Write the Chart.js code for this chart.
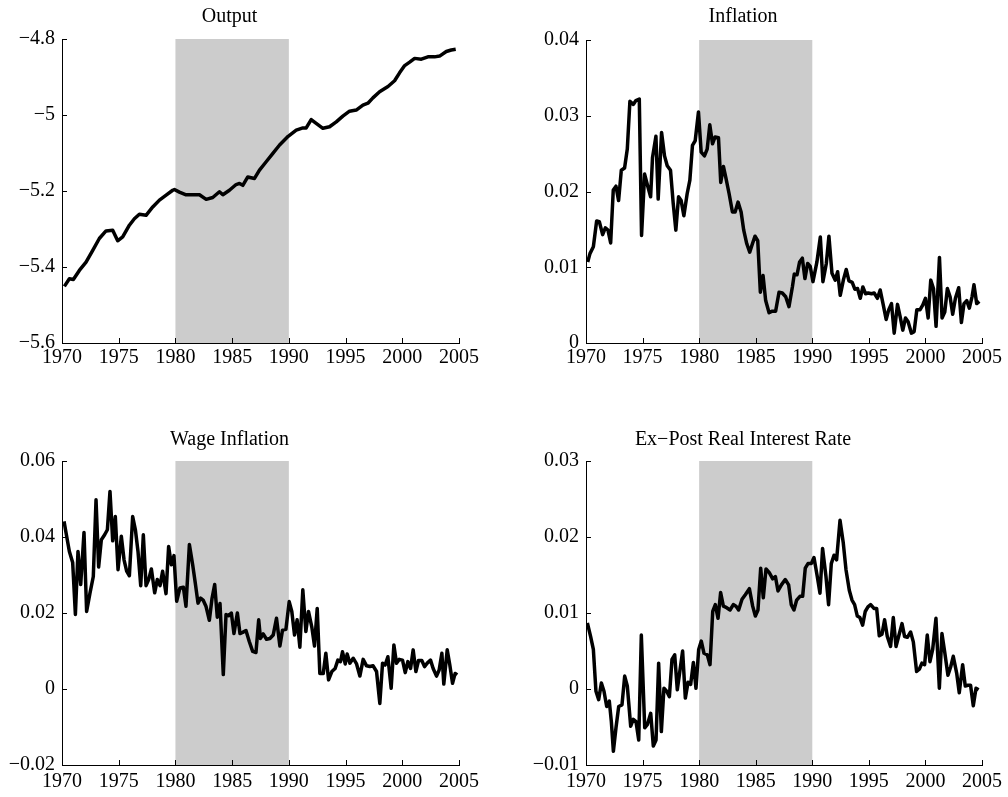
<!DOCTYPE html>
<html lang="en">
<head>
<meta charset="UTF-8" />
<title>Output, Inflation, Wage Inflation, Real Rate</title>
<script src="https://cdn.jsdelivr.net/npm/chart.js@4.4.1/dist/chart.umd.min.js"></script>
<style>
  body { margin: 0; background: #fff; width: 1008px; height: 797px; overflow: hidden; }
  canvas { position: absolute; }
</style>
</head>
<body>
<canvas id="cOutput" width="504" height="398" style="left:0;top:0;width:504px;height:398px"></canvas>
<canvas id="cInfl" width="504" height="398" style="left:504px;top:0;width:504px;height:398px"></canvas>
<canvas id="cWage" width="504" height="399" style="left:0;top:398px;width:504px;height:399px"></canvas>
<canvas id="cReal" width="504" height="399" style="left:504px;top:398px;width:504px;height:399px"></canvas>
<script>
// shaded period and x ticks
const shadeYears = [1980, 1990];
const xTicks = [1970, 1975, 1980, 1985, 1990, 1995, 2000, 2005];

// Output
const outputYears = [1970.21, 1970.65, 1971.0, 1971.53, 1972.12, 1972.71, 1973.29, 1973.88, 1974.47, 1974.91,
  1975.35, 1975.94, 1976.38, 1976.82, 1977.41, 1978.0, 1978.59, 1979.18, 1979.76, 1979.91,
  1980.35, 1980.94, 1981.53, 1982.12, 1982.71, 1983.29, 1983.88, 1984.18, 1984.76, 1985.35,
  1985.65, 1985.94, 1986.38, 1986.97, 1987.41, 1988.0, 1988.59, 1989.18, 1989.94, 1990.65,
  1991.24, 1991.53, 1991.97, 1992.41, 1993.0, 1993.59, 1994.18, 1994.76, 1995.35, 1995.94,
  1996.53, 1996.97, 1997.41, 1998.0, 1998.74, 1999.32, 1999.76, 2000.21, 2000.65, 2001.09,
  2001.68, 2002.26, 2002.85, 2003.29, 2003.88, 2004.32, 2004.71];
const outputValues = [-5.451, -5.431, -5.433, -5.409, -5.387, -5.356, -5.325, -5.305, -5.303, -5.331,
  -5.321, -5.290, -5.273, -5.261, -5.264, -5.242, -5.224, -5.211, -5.198, -5.196,
  -5.203, -5.210, -5.210, -5.210, -5.222, -5.217, -5.202, -5.210, -5.198, -5.183,
  -5.180, -5.185, -5.163, -5.167, -5.145, -5.123, -5.101, -5.079, -5.056, -5.040,
  -5.034, -5.034, -5.012, -5.022, -5.035, -5.031, -5.018, -5.003, -4.990, -4.987,
  -4.974, -4.969, -4.955, -4.939, -4.925, -4.910, -4.889, -4.870, -4.861, -4.851,
  -4.853, -4.847, -4.847, -4.845, -4.833, -4.829, -4.827];
const outputTicks = [-5.6, -5.4, -5.2, -5, -4.8];

// Inflation
const inflYears = [1970.15, 1970.35, 1970.65, 1970.94, 1971.18, 1971.47, 1971.71, 1971.94, 1972.18, 1972.41,
  1972.65, 1972.88, 1973.12, 1973.41, 1973.65, 1973.88, 1974.18, 1974.41, 1974.71, 1974.91,
  1975.18, 1975.44, 1975.71, 1975.88, 1976.18, 1976.38, 1976.68, 1976.94, 1977.18, 1977.47,
  1977.71, 1977.94, 1978.18, 1978.41, 1978.65, 1978.94, 1979.18, 1979.41, 1979.65, 1979.94,
  1980.18, 1980.47, 1980.71, 1980.94, 1981.18, 1981.41, 1981.71, 1981.91, 1982.15, 1982.35,
  1982.65, 1982.94, 1983.18, 1983.44, 1983.71, 1983.94, 1984.21, 1984.47, 1984.71, 1984.94,
  1985.18, 1985.41, 1985.65, 1985.88, 1986.18, 1986.47, 1986.76, 1987.06, 1987.35, 1987.65,
  1987.94, 1988.24, 1988.41, 1988.65, 1988.88, 1989.12, 1989.35, 1989.59, 1989.82, 1990.06,
  1990.41, 1990.71, 1990.94, 1991.24, 1991.47, 1991.74, 1992.03, 1992.24, 1992.47, 1992.76,
  1993.0, 1993.24, 1993.53, 1993.76, 1994.0, 1994.24, 1994.47, 1994.71, 1994.94, 1995.24,
  1995.47, 1995.76, 1996.0, 1996.29, 1996.53, 1996.76, 1997.0, 1997.24, 1997.53, 1997.76,
  1998.0, 1998.24, 1998.47, 1998.76, 1999.0, 1999.24, 1999.53, 1999.76, 2000.0, 2000.24,
  2000.47, 2000.71, 2000.94, 2001.24, 2001.47, 2001.71, 2001.94, 2002.18, 2002.41, 2002.65,
  2002.94, 2003.18, 2003.41, 2003.65, 2003.88, 2004.12, 2004.29, 2004.53, 2004.76];
const inflValues = [0.0107, 0.0118, 0.0127, 0.0161, 0.0160, 0.0143, 0.0152, 0.0149, 0.0132, 0.0202,
  0.0207, 0.0188, 0.0228, 0.0231, 0.0256, 0.0319, 0.0315, 0.0320, 0.0322, 0.0142,
  0.0223, 0.0208, 0.0193, 0.0245, 0.0273, 0.0190, 0.0278, 0.0247, 0.0234, 0.0228,
  0.0184, 0.0149, 0.0193, 0.0188, 0.0168, 0.0197, 0.0215, 0.0261, 0.0267, 0.0305,
  0.0252, 0.0247, 0.0256, 0.0288, 0.0263, 0.0272, 0.0271, 0.0212, 0.0233, 0.0219,
  0.0197, 0.0173, 0.0173, 0.0186, 0.0173, 0.0149, 0.0131, 0.0120, 0.0131, 0.0141,
  0.0135, 0.0067, 0.0089, 0.0056, 0.0040, 0.0042, 0.0042, 0.0067, 0.0066, 0.0061,
  0.0048, 0.0074, 0.0091, 0.0090, 0.0107, 0.0112, 0.0085, 0.0105, 0.0101, 0.0081,
  0.0107, 0.0140, 0.0081, 0.0105, 0.0141, 0.0092, 0.0083, 0.0094, 0.0063, 0.0084,
  0.0097, 0.0082, 0.0080, 0.0071, 0.0072, 0.0059, 0.0074, 0.0065, 0.0066, 0.0065,
  0.0066, 0.0059, 0.0070, 0.0049, 0.0031, 0.0044, 0.0052, 0.0013, 0.0051, 0.0035,
  0.0017, 0.0033, 0.0028, 0.0013, 0.0015, 0.0044, 0.0044, 0.0050, 0.0059, 0.0033,
  0.0083, 0.0072, 0.0022, 0.0113, 0.0033, 0.0041, 0.0072, 0.0061, 0.0038, 0.0059,
  0.0073, 0.0027, 0.0052, 0.0056, 0.0046, 0.0061, 0.0077, 0.0052, 0.0055];
const inflTicks = [0, 0.01, 0.02, 0.03, 0.04];

// Wage inflation
const wageYears = [1970.18, 1970.41, 1970.65, 1970.94, 1971.18, 1971.41, 1971.65, 1971.94, 1972.17, 1972.47,
  1972.76, 1973.0, 1973.23, 1973.47, 1973.76, 1974.0, 1974.23, 1974.47, 1974.7, 1974.94,
  1975.23, 1975.47, 1975.7, 1975.94, 1976.23, 1976.47, 1976.7, 1976.94, 1977.17, 1977.41,
  1977.64, 1977.88, 1978.17, 1978.4, 1978.64, 1978.87, 1979.17, 1979.4, 1979.64, 1979.87,
  1980.11, 1980.4, 1980.7, 1980.93, 1981.23, 1981.52, 1981.75, 1981.99, 1982.22, 1982.46,
  1982.69, 1982.99, 1983.22, 1983.46, 1983.69, 1983.93, 1984.22, 1984.46, 1984.69, 1984.93,
  1985.16, 1985.46, 1985.69, 1985.93, 1986.22, 1986.51, 1986.81, 1987.1, 1987.34, 1987.5,
  1987.74, 1988.03, 1988.33, 1988.62, 1988.91, 1989.21, 1989.44, 1989.74, 1990.03, 1990.26,
  1990.5, 1990.73, 1990.97, 1991.23, 1991.5, 1991.73, 1992.03, 1992.26, 1992.5, 1992.73,
  1993.03, 1993.26, 1993.5, 1993.79, 1994.08, 1994.32, 1994.55, 1994.73, 1994.97, 1995.14,
  1995.38, 1995.67, 1995.97, 1996.26, 1996.55, 1996.85, 1997.14, 1997.43, 1997.73, 1998.02,
  1998.26, 1998.49, 1998.73, 1999.02, 1999.26, 1999.49, 1999.73, 2000.02, 2000.26, 2000.49,
  2000.73, 2000.96, 2001.2, 2001.43, 2001.72, 2001.96, 2002.2, 2002.49, 2002.72, 2003.02,
  2003.25, 2003.49, 2003.66, 2003.96, 2004.19, 2004.43, 2004.66, 2004.84];
const wageValues = [0.0441, 0.0402, 0.0362, 0.0333, 0.0196, 0.0362, 0.0275, 0.0412, 0.0204, 0.0253,
  0.0296, 0.0498, 0.0321, 0.0393, 0.0406, 0.0419, 0.0520, 0.0390, 0.0454, 0.0314,
  0.0402, 0.0340, 0.0310, 0.0298, 0.0454, 0.0419, 0.0362, 0.0272, 0.0406, 0.0272,
  0.0288, 0.0316, 0.0253, 0.0288, 0.0272, 0.0310, 0.0251, 0.0375, 0.0327, 0.0351,
  0.0231, 0.0266, 0.0268, 0.0218, 0.0380, 0.0327, 0.0279, 0.0226, 0.0239, 0.0233,
  0.0218, 0.0181, 0.0237, 0.0275, 0.0189, 0.0225, 0.0038, 0.0196, 0.0193, 0.0200,
  0.0146, 0.0200, 0.0146, 0.0149, 0.0154, 0.0125, 0.0099, 0.0096, 0.0182, 0.0133,
  0.0145, 0.0131, 0.0133, 0.0142, 0.0186, 0.0113, 0.0155, 0.0157, 0.0230, 0.0204,
  0.0142, 0.0182, 0.0110, 0.0261, 0.0151, 0.0204, 0.0162, 0.0113, 0.0212, 0.0041,
  0.0041, 0.0094, 0.0024, 0.0046, 0.0054, 0.0076, 0.0072, 0.0098, 0.0066, 0.0092,
  0.0068, 0.0081, 0.0066, 0.0034, 0.0078, 0.0061, 0.0059, 0.0061, 0.0046, -0.0038,
  0.0068, 0.0063, 0.0085, 0.0002, 0.0116, 0.0068, 0.0078, 0.0076, 0.0043, 0.0072,
  0.0054, 0.0103, 0.0046, 0.0075, 0.0075, 0.0059, 0.0068, 0.0076, 0.0054, 0.0034,
  0.0050, 0.0094, 0.0013, 0.0103, 0.0063, 0.0015, 0.0041, 0.0037];
const wageTicks = [-0.02, 0, 0.02, 0.04, 0.06];

// Ex-post real interest rate
const realYears = [1970.12, 1970.41, 1970.65, 1970.88, 1971.12, 1971.36, 1971.59, 1971.83, 1972.06, 1972.24,
  1972.42, 1972.65, 1972.89, 1973.18, 1973.42, 1973.65, 1973.95, 1974.18, 1974.42, 1974.66,
  1974.89, 1975.19, 1975.42, 1975.72, 1975.95, 1976.19, 1976.42, 1976.66, 1976.89, 1977.13,
  1977.37, 1977.6, 1977.84, 1978.07, 1978.31, 1978.54, 1978.78, 1979.02, 1979.25, 1979.49,
  1979.72, 1979.96, 1980.19, 1980.43, 1980.72, 1980.96, 1981.2, 1981.43, 1981.67, 1981.9,
  1982.14, 1982.43, 1982.73, 1983.02, 1983.26, 1983.49, 1983.79, 1984.08, 1984.44, 1984.73,
  1984.97, 1985.2, 1985.44, 1985.67, 1985.91, 1986.2, 1986.5, 1986.74, 1986.97, 1987.27,
  1987.61, 1987.91, 1988.14, 1988.38, 1988.62, 1988.91, 1989.15, 1989.38, 1989.62, 1989.91,
  1990.15, 1990.44, 1990.68, 1990.91, 1991.21, 1991.44, 1991.68, 1991.92, 1992.15, 1992.45,
  1992.74, 1992.98, 1993.27, 1993.51, 1993.74, 1993.98, 1994.21, 1994.45, 1994.68, 1994.92,
  1995.16, 1995.45, 1995.69, 1995.92, 1996.16, 1996.39, 1996.63, 1996.92, 1997.16, 1997.4,
  1997.63, 1997.93, 1998.16, 1998.4, 1998.69, 1998.93, 1999.22, 1999.46, 1999.69, 1999.93,
  2000.16, 2000.4, 2000.64, 2000.93, 2001.23, 2001.46, 2001.7, 2001.99, 2002.23, 2002.46,
  2002.76, 2002.99, 2003.29, 2003.52, 2003.76, 2003.99, 2004.23, 2004.47, 2004.7];
const realValues = [0.0087, 0.0069, 0.0052, -0.0003, -0.0014, 0.0008, -0.0003, -0.0023, -0.0016, -0.0043,
  -0.0082, -0.0051, -0.0023, -0.0021, 0.0017, 0.0004, -0.0049, -0.0040, -0.0043, -0.0067,
  0.0071, -0.0051, -0.0047, -0.0032, -0.0075, -0.0067, 0.0034, -0.0056, 0.0001, -0.0003,
  -0.0010, 0.0039, 0.0045, -0.0001, 0.0025, 0.0050, -0.0012, 0.0009, 0.0006, 0.0035,
  0.0001, 0.0052, 0.0063, 0.0047, 0.0045, 0.0032, 0.0102, 0.0111, 0.0093, 0.0127,
  0.0109, 0.0107, 0.0104, 0.0111, 0.0109, 0.0104, 0.0118, 0.0124, 0.0132, 0.0109,
  0.0096, 0.0104, 0.0159, 0.0120, 0.0158, 0.0153, 0.0145, 0.0148, 0.0129, 0.0137,
  0.0144, 0.0137, 0.0111, 0.0104, 0.0117, 0.0122, 0.0122, 0.0159, 0.0165, 0.0165,
  0.0173, 0.0148, 0.0126, 0.0185, 0.0148, 0.0111, 0.0165, 0.0176, 0.0170, 0.0222,
  0.0192, 0.0157, 0.0130, 0.0117, 0.0111, 0.0096, 0.0094, 0.0084, 0.0102, 0.0108,
  0.0111, 0.0106, 0.0106, 0.0070, 0.0072, 0.0091, 0.0069, 0.0056, 0.0094, 0.0056,
  0.0069, 0.0086, 0.0069, 0.0068, 0.0075, 0.0062, 0.0023, 0.0026, 0.0034, 0.0032,
  0.0071, 0.0036, 0.0052, 0.0093, 0.0001, 0.0073, 0.0049, 0.0018, 0.0029, 0.0043,
  0.0021, -0.0005, 0.0032, 0.0004, 0.0005, 0.0005, -0.0022, 0.0001, -0.0001];
const realTicks = [-0.01, 0, 0.01, 0.02, 0.03];

Chart.defaults.font.family = "'Liberation Serif', 'Times New Roman', serif";
Chart.defaults.color = "#000";

// grey band for the 1980s, drawn under everything
const shadePlugin = {
  id: "shade",
  beforeDraw(chart) {
    const { ctx, chartArea, scales } = chart;
    const x0 = scales.x.getPixelForValue(shadeYears[0]);
    const x1 = scales.x.getPixelForValue(shadeYears[1]);
    ctx.save();
    ctx.fillStyle = "#cccccc";
    ctx.fillRect(x0, chartArea.top, x1 - x0, chartArea.bottom - chartArea.top);
    ctx.restore();
  },
};

// matlab style ticks pointing inside the axes
const inTicksPlugin = {
  id: "inTicks",
  afterDraw(chart) {
    const { ctx, chartArea, scales } = chart;
    ctx.save();
    ctx.strokeStyle = "#000";
    ctx.lineWidth = 1;
    ctx.beginPath();
    scales.y.ticks.forEach((t) => {
      const y = Math.round(scales.y.getPixelForValue(t.value)) + 0.5;
      ctx.moveTo(chartArea.left, y);
      ctx.lineTo(chartArea.left + 5, y);
    });
    scales.x.ticks.forEach((t) => {
      const x = Math.round(scales.x.getPixelForValue(t.value)) + 0.5;
      ctx.moveTo(x, chartArea.bottom);
      ctx.lineTo(x, chartArea.bottom - 5);
    });
    ctx.stroke();
    ctx.restore();
  },
};

function fmt(v) {
  const s = String(Number(v.toFixed(4)));
  return s.charAt(0) === "-" ? "\u2212" + s.slice(1) : s;
}

function makePanel(id, title, years, values, yTicks, box) {
  return new Chart(document.getElementById(id), {
    type: "line",
    data: {
      datasets: [
        {
          data: years.map((x, i) => ({ x: x, y: values[i] })),
          borderColor: "#000",
          borderWidth: 3.5,
          pointRadius: 0,
          tension: 0,
          borderJoinStyle: "round",
        },
      ],
    },
    options: {
      responsive: false,
      animation: false,
      layout: { padding: { left: 0, right: box.right, top: 0, bottom: 0 } },
      plugins: {
        legend: { display: false },
        tooltip: { enabled: false },
        title: {
          display: true,
          text: title,
          color: "#000",
          font: { size: 20, weight: "normal", lineHeight: 1.2 },
          padding: { top: box.titleTop, bottom: box.top - box.titleTop - 24 },
        },
      },
      scales: {
        x: {
          type: "linear",
          min: xTicks[0],
          max: xTicks[xTicks.length - 1],
          afterBuildTicks: (s) => { s.ticks = xTicks.map((v) => ({ value: v })); },
          afterFit: (s) => { s.height = box.xh; },
          grid: { display: false, drawTicks: false },
          border: { display: true, color: "#000", width: 1 },
          ticks: { font: { size: 20 }, padding: box.xpad, maxRotation: 0, callback: (v) => String(v) },
        },
        y: {
          min: yTicks[0],
          max: yTicks[yTicks.length - 1],
          afterBuildTicks: (s) => { s.ticks = yTicks.map((v) => ({ value: v })); },
          afterFit: (s) => { s.width = box.yw; },
          grid: { display: false, drawTicks: false },
          border: { display: true, color: "#000", width: 1 },
          ticks: { font: { size: 20 }, padding: 7, callback: (v) => fmt(v) },
        },
      },
    },
    plugins: [shadePlugin, inTicksPlugin],
  });
}

makePanel("cOutput", "Output", outputYears, outputValues, outputTicks,
  { yw: 62, right: 45, top: 39, titleTop: 5, xh: 55, xpad: 3 });
makePanel("cInfl", "Inflation", inflYears, inflValues, inflTicks,
  { yw: 82, right: 26, top: 40, titleTop: 5, xh: 55, xpad: 3 });
makePanel("cWage", "Wage Inflation", wageYears, wageValues, wageTicks,
  { yw: 62, right: 45, top: 63, titleTop: 29.5, xh: 32, xpad: 5 });
makePanel("cReal", "Ex\u2212Post Real Interest Rate", realYears, realValues, realTicks,
  { yw: 82, right: 26, top: 63, titleTop: 29.5, xh: 32, xpad: 5 });
</script>
</body>
</html>
